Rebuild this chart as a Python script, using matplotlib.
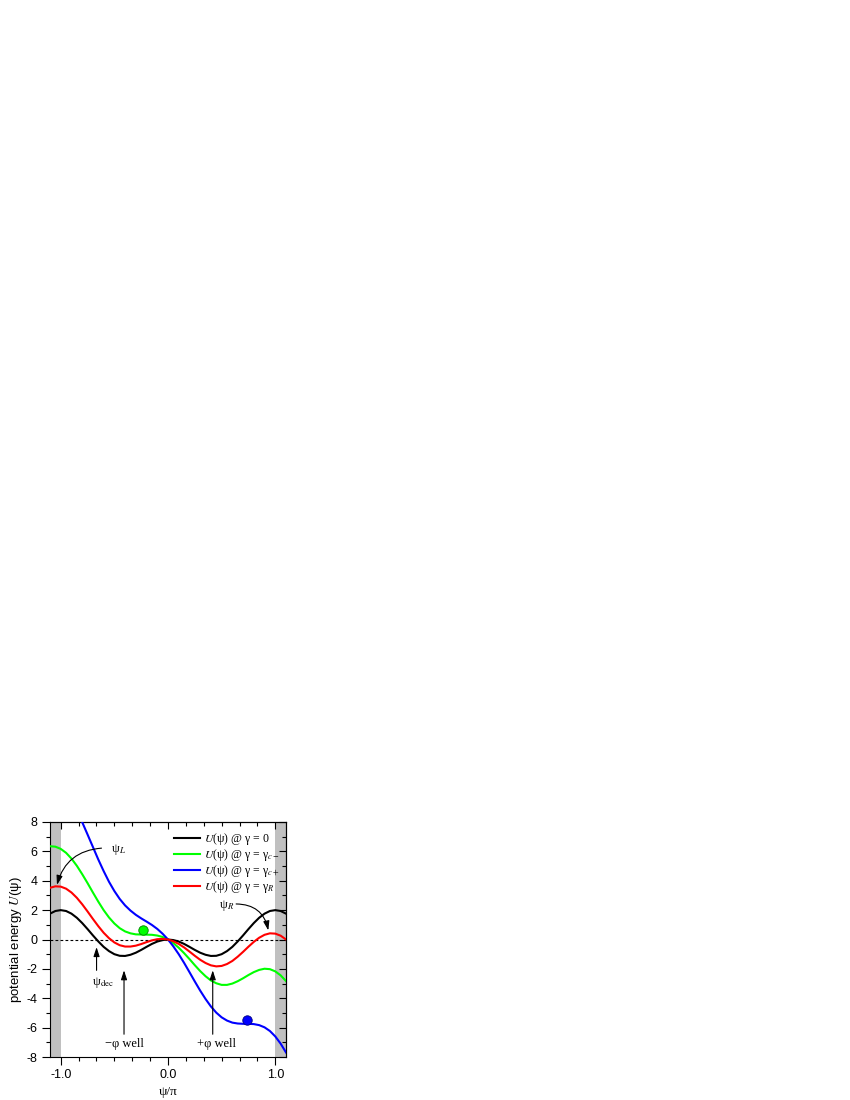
import numpy as np
import matplotlib
matplotlib.use('Agg')
import matplotlib.pyplot as plt
from matplotlib.ticker import MultipleLocator

plt.rcParams['mathtext.fontset'] = 'stix'
plt.rcParams['axes.unicode_minus'] = False

# psi/pi sampling points
psi = [-1.1, -1.05, -1.0, -0.95, -0.9, -0.85, -0.8, -0.75, -0.7, -0.65, -0.6,
       -0.55, -0.5, -0.45, -0.4, -0.35, -0.3, -0.25, -0.2, -0.15, -0.1, -0.05,
       0.0, 0.05, 0.1, 0.15, 0.2, 0.25, 0.3, 0.35, 0.4, 0.45, 0.5, 0.55, 0.6,
       0.65, 0.7, 0.75, 0.8, 0.85, 0.9, 0.95, 1.0, 1.05, 1.1]

# U(psi) @ gamma = 0
u_black = [1.76, 1.94, 2.00, 1.94, 1.76, 1.48, 1.12, 0.71, 0.28, -0.13, -0.50,
           -0.79, -1.00, -1.11, -1.12, -1.04, -0.90, -0.71, -0.50, -0.30, -0.14, -0.04,
           0.00, -0.04, -0.14, -0.30, -0.50, -0.71, -0.90, -1.04, -1.12, -1.11, -1.00,
           -0.79, -0.50, -0.13, 0.28, 0.71, 1.12, 1.48, 1.76, 1.94, 2.00, 1.94, 1.76]
# U(psi) @ gamma = gamma_c-
u_green = [6.35, 6.32, 6.17, 5.90, 5.51, 5.02, 4.45, 3.84, 3.20, 2.58, 2.00,
           1.50, 1.09, 0.77, 0.55, 0.42, 0.35, 0.34, 0.33, 0.32, 0.27, 0.17,
           0.00, -0.25, -0.56, -0.93, -1.33, -1.75, -2.15, -2.50, -2.79, -2.98, -3.09,
           -3.09, -3.00, -2.84, -2.64, -2.42, -2.22, -2.07, -1.99, -2.02, -2.17, -2.44, -2.83]
# U(psi) @ gamma = gamma_c+
u_blue = [11.22, 10.96, 10.60, 10.10, 9.50, 8.79, 7.99, 7.15, 6.30, 5.45, 4.66,
          3.93, 3.30, 2.76, 2.32, 1.97, 1.68, 1.44, 1.22, 0.99, 0.72, 0.39,
          0.00, -0.47, -1.00, -1.59, -2.22, -2.86, -3.48, -4.05, -4.56, -4.98, -5.30,
          -5.52, -5.66, -5.72, -5.74, -5.74, -5.76, -5.83, -5.98, -6.23, -6.60, -7.09, -7.69]
# U(psi) @ gamma = gamma_R
u_red = [3.52, 3.62, 3.60, 3.46, 3.20, 2.84, 2.40, 1.91, 1.40, 0.91, 0.46,
         0.09, -0.20, -0.39, -0.48, -0.48, -0.42, -0.31, -0.18, -0.06, 0.02, 0.04,
         0.00, -0.12, -0.30, -0.54, -0.82, -1.11, -1.38, -1.60, -1.76, -1.83, -1.80,
         -1.67, -1.46, -1.17, -0.84, -0.49, -0.16, 0.12, 0.32, 0.42, 0.40, 0.26, 0.00]

# the two marked points
dot_green = (-0.232, 0.67)
dot_blue = (0.733, -5.45)

labels = [r'$U$(ψ) @ γ = 0', r'$U$(ψ) @ γ = γ$_{c-}$',
          r'$U$(ψ) @ γ = γ$_{c+}$', r'$U$(ψ) @ γ = γ$_{R}$']
colors = ['black', '#00ff00', '#0000ff', '#ff0000']

serif = 'Liberation Serif'
sans = 'Liberation Sans'

fig = plt.figure(figsize=(8.5, 11), dpi=100)
ax = fig.add_axes([50/850, 43/1100, 236/850, 235/1100])

# gray bands beyond +-pi
ax.axvspan(-1.1, -1.0, color='#c0c0c0', lw=0, zorder=0)
ax.axvspan(1.0, 1.1, color='#c0c0c0', lw=0, zorder=0)
ax.axhline(0, color='black', lw=0.8, ls=(0, (2.5, 2)), zorder=1)

for u, c, lab in zip([u_black, u_green, u_blue, u_red], colors, labels):
    ax.plot(psi, u, color=c, lw=1.5, label=lab, zorder=3)

ax.plot(*dot_green, 'o', ms=6.8, color='#00ff00', mec='#008000', mew=0.6, zorder=4)
ax.plot(*dot_blue, 'o', ms=6.8, color='#0000ff', mec='#000080', mew=0.6, zorder=4)

ax.set_xlim(-1.1, 1.1)
ax.set_ylim(-8, 8)
ax.xaxis.set_major_locator(MultipleLocator(1.0))
ax.xaxis.set_minor_locator(MultipleLocator(1/6))
ax.yaxis.set_major_locator(MultipleLocator(2))
ax.yaxis.set_minor_locator(MultipleLocator(1))
ax.xaxis.set_major_formatter(matplotlib.ticker.FormatStrFormatter('%.1f'))

ax.tick_params(which='both', direction='out', top=False, right=False, width=0.8)
ax.tick_params(which='major', length=5.5, labelsize=9)
ax.tick_params(which='minor', length=3)
for lbl in ax.get_xticklabels() + ax.get_yticklabels():
    lbl.set_fontfamily(sans)

# inward ticks on top and right
sx = ax.secondary_xaxis('top')
sx.xaxis.set_major_locator(MultipleLocator(1.0))
sx.xaxis.set_minor_locator(MultipleLocator(1/6))
sx.tick_params(which='both', direction='in', labeltop=False, width=0.8)
sx.tick_params(which='major', length=5)
sx.tick_params(which='minor', length=3)
sy = ax.secondary_yaxis('right')
sy.yaxis.set_major_locator(MultipleLocator(2))
sy.yaxis.set_minor_locator(MultipleLocator(1))
sy.tick_params(which='both', direction='in', labelright=False, width=0.8)
sy.tick_params(which='major', length=5)
sy.tick_params(which='minor', length=3)

for sp in ax.spines.values():
    sp.set_linewidth(0.8)

ax.set_xlabel('ψ/π', family=serif, fontsize=9.5, labelpad=3)
ax.set_ylabel(r'potential energy $U$(ψ)', family=sans, fontsize=9.5, labelpad=2)

leg = ax.legend(loc='upper left', bbox_to_anchor=(0.525, 0.963), frameon=False,
                prop={'family': serif, 'size': 8.5}, handlelength=2.2,
                handletextpad=0.35, labelspacing=0.0, borderpad=0, borderaxespad=0)

arrow = dict(arrowstyle='-|>,head_length=0.55,head_width=0.18', color='black',
             lw=0.8, shrinkA=0, shrinkB=0)

# psi_L
ax.text(-0.53, 6.1, r'ψ$_{L}$', family=serif, fontsize=9, va='center')
ax.annotate('', xy=(-1.035, 3.72), xytext=(-0.62, 6.22),
            arrowprops=dict(arrow, connectionstyle='arc3,rad=0.35'))
# psi_R
ax.text(0.48, 2.3, r'ψ$_{R}$', family=serif, fontsize=9, va='center')
ax.annotate('', xy=(0.935, 0.62), xytext=(0.635, 2.42),
            arrowprops=dict(arrow, connectionstyle='arc3,rad=-0.4'))
# psi_dec
ax.text(-0.61, -2.95, r'ψ$_{\mathrm{dec}}$', family=serif, fontsize=9,
        ha='center', va='center')
ax.annotate('', xy=(-0.666, -0.52), xytext=(-0.666, -2.1), arrowprops=arrow)
# wells
ax.text(-0.41, -7.1, '−φ well', family=serif, fontsize=9, ha='center', va='center')
ax.annotate('', xy=(-0.41, -2.1), xytext=(-0.41, -6.45), arrowprops=arrow)
ax.text(0.455, -7.1, '+φ well', family=serif, fontsize=9, ha='center', va='center')
ax.annotate('', xy=(0.417, -2.1), xytext=(0.417, -6.45), arrowprops=arrow)

fig.savefig('out.png', dpi=100)
